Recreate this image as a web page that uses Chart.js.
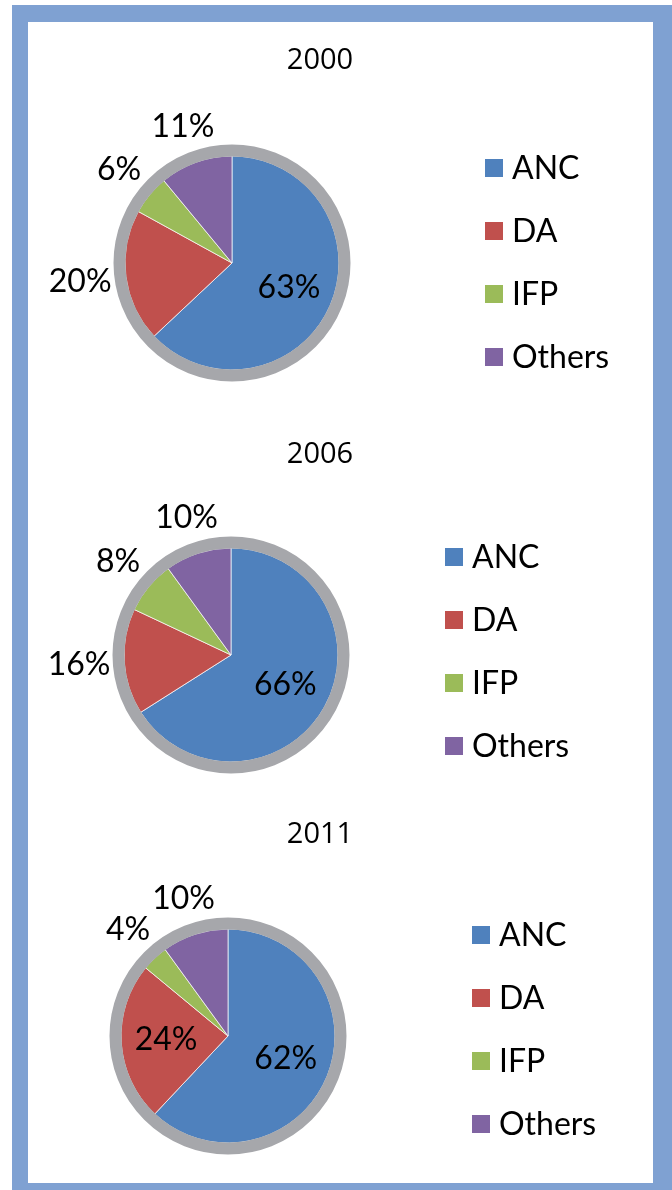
<!DOCTYPE html>
<html lang="en">
<head>
<meta charset="UTF-8" />
<title>Vote share by party</title>
<script src="https://cdn.jsdelivr.net/npm/chart.js"></script>
<style>
  html, body { margin: 0; padding: 0; background: #fff; }
  #page { position: relative; width: 672px; height: 1190px; overflow: hidden; }
  #frame {
    position: absolute; left: 12px; top: 5px;
    width: 625px; height: 1161px;
    border-style: solid; border-color: #7fa1d2;
    border-width: 17px 19px 7px 16px;
    background: #fff;
  }
  canvas { position: absolute; left: 0; }
</style>
</head>
<body>
<div id="page">
  <div id="frame"></div>
  <canvas id="c2000" width="672" height="400" style="top:0px"></canvas>
  <canvas id="c2006" width="672" height="395" style="top:400px"></canvas>
  <canvas id="c2011" width="672" height="395" style="top:795px"></canvas>
</div>

<script>
  const parties = ['ANC', 'DA', 'IFP', 'Others'];
  const years = ['2000', '2006', '2011'];
  const share2000 = [63, 20, 6, 11];
  const share2006 = [66, 16, 8, 10];
  const share2011 = [62, 24, 4, 10];
  const partyColors = ['#4f81bd', '#c0504d', '#9bbb59', '#8064a2'];

  // where each panel sits on the page
  const panels = [
    { id: 'c2000', top: 0,   height: 400, values: share2000, title: years[0], titleY: 61,  cx: 232, cy: 263,  legendX: 485, legendY: 168 },
    { id: 'c2006', top: 400, height: 395, values: share2006, title: years[1], titleY: 455, cx: 231, cy: 655,  legendX: 445, legendY: 557 },
    { id: 'c2011', top: 795, height: 395, values: share2011, title: years[2], titleY: 835, cx: 228, cy: 1036, legendX: 472, legendY: 935 }
  ];

  const half = 130;      // half size of the square chart area
  const rowGap = 63;     // legend row spacing

  function decorPlugin(p) {
    return {
      id: 'decor_' + p.id,
      afterDatasetsDraw(chart) {
        const ctx = chart.ctx;
        const arcs = chart.getDatasetMeta(0).data;
        const cx = arcs[0].x, cy = arcs[0].y, r = arcs[0].outerRadius;
        const values = chart.data.datasets[0].data;

        ctx.save();
        // grey rim round the pie
        ctx.beginPath();
        ctx.arc(cx, cy, r + 5.5, 0, Math.PI * 2);
        ctx.lineWidth = 12;
        ctx.strokeStyle = '#a6a7ab';
        ctx.stroke();

        // percentage labels
        ctx.font = '32px Lato';
        ctx.fillStyle = '#000';
        ctx.textAlign = 'center';
        ctx.textBaseline = 'middle';
        arcs.forEach((arc, i) => {
          const mid = (arc.startAngle + arc.endAngle) / 2;
          const dx = Math.cos(mid), dy = Math.sin(mid);
          const text = values[i] + '%';
          let d;
          if (values[i] > 20) {
            d = r * 0.58;
          } else {
            const w = ctx.measureText(text).width;
            d = r + 11 + 2 + Math.abs(dx) * w / 2 + Math.abs(dy) * 15;
          }
          ctx.fillText(text, cx + dx * d, cy + dy * d);
        });

        // title
        ctx.font = '29px "Open Sans"';
        ctx.fillText(p.title, 320, p.titleY - p.top);

        // legend
        ctx.font = '32px Lato';
        ctx.textAlign = 'left';
        chart.data.labels.forEach((lab, i) => {
          const y = p.legendY - p.top + i * rowGap;
          ctx.fillStyle = partyColors[i];
          ctx.fillRect(p.legendX, y - 9, 18, 18);
          ctx.fillStyle = '#000';
          ctx.fillText(lab, p.legendX + 27, y + 1);
        });
        ctx.restore();
      }
    };
  }

  panels.forEach(p => {
    const rel = p.cy - p.top;
    new Chart(document.getElementById(p.id), {
      type: 'pie',
      data: {
        labels: parties,
        datasets: [{
          data: p.values,
          backgroundColor: partyColors,
          borderColor: 'rgba(255,255,255,0.7)',
          borderWidth: 1,
          radius: 107
        }]
      },
      options: {
        responsive: false,
        animation: false,
        events: [],
        layout: {
          padding: {
            left: p.cx - half,
            right: 672 - p.cx - half,
            top: rel - half,
            bottom: p.height - rel - half
          }
        },
        plugins: {
          legend: { display: false },
          title: { display: false },
          tooltip: { enabled: false }
        }
      },
      plugins: [decorPlugin(p)]
    });
  });
</script>
</body>
</html>
